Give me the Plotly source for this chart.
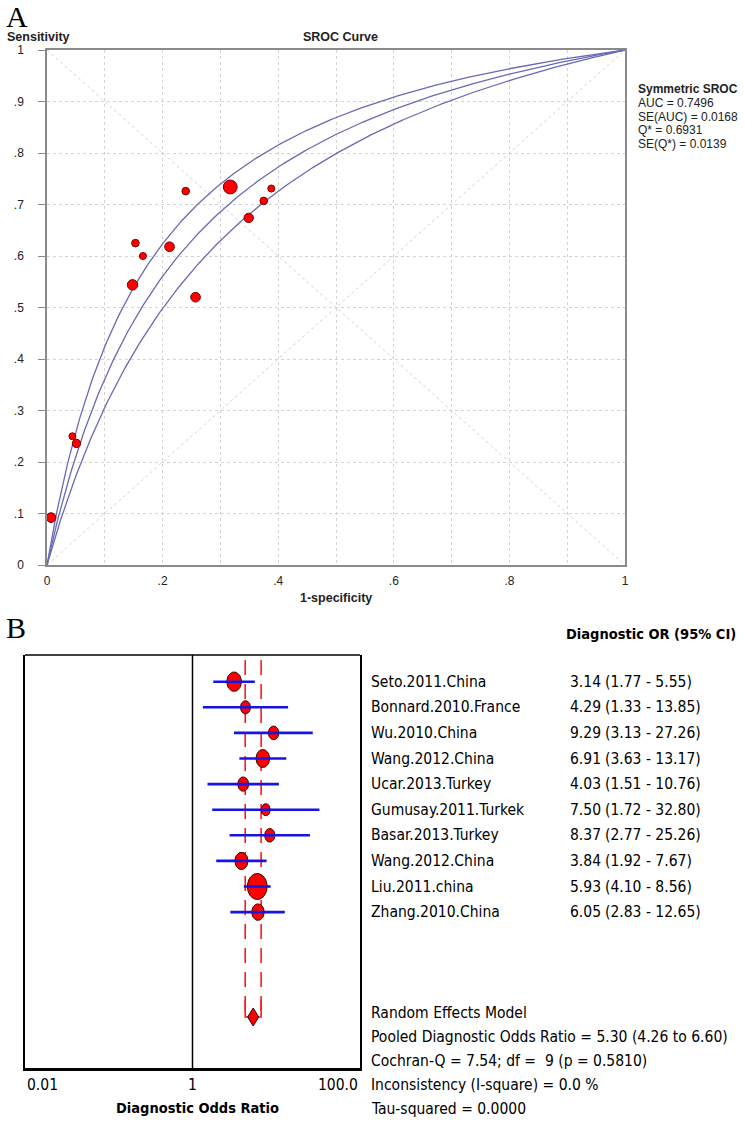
import numpy as np
import plotly.graph_objects as go

# ---------------- DATA ----------------
# Panel A : SROC scatter (1-specificity, sensitivity) and relative study weights
sroc_fpr = [0.153, 0.166, 0.148, 0.212, 0.240, 0.257, 0.317, 0.349, 0.375, 0.388, 0.044, 0.051, 0.007]
sroc_sens = [0.625, 0.600, 0.544, 0.618, 0.726, 0.520, 0.734, 0.674, 0.707, 0.731, 0.250, 0.236, 0.092]
sroc_weight = [5.3, 4.5, 10.0, 8.6, 5.3, 8.6, 17.7, 8.1, 5.3, 4.5, 4.5, 6.4, 8.6]
# diagnostic odds ratios of the three symmetric SROC curves (lower SE, SROC, upper SE)
sroc_curve_dor = [3.97, 5.10, 6.63]
auc, se_auc, q_star, se_q = 0.7496, 0.0168, 0.6931, 0.0139
x_tick_vals = [0.0, 0.1, 0.2, 0.3, 0.4, 0.5, 0.6, 0.7, 0.8, 0.9, 1.0]
x_tick_text = ["0", "", ".2", "", ".4", "", ".6", "", ".8", "", "1"]
y_tick_text = ["0", ".1", ".2", ".3", ".4", ".5", ".6", ".7", ".8", ".9", "1"]

# Panel B : forest plot of diagnostic odds ratios
studies = ["Seto.2011.China", "Bonnard.2010.France", "Wu.2010.China", "Wang.2012.China",
           "Ucar.2013.Turkey", "Gumusay.2011.Turkek", "Basar.2013.Turkey", "Wang.2012.China",
           "Liu.2011.china", "Zhang.2010.China"]
dor = [3.14, 4.29, 9.29, 6.91, 4.03, 7.50, 8.37, 3.84, 5.93, 6.05]
ci_lo = [1.77, 1.33, 3.13, 3.63, 1.51, 1.72, 2.77, 1.92, 4.10, 2.83]
ci_hi = [5.55, 13.85, 27.26, 13.17, 10.76, 32.80, 25.26, 7.67, 8.56, 12.65]
pooled, pooled_lo, pooled_hi = 5.30, 4.26, 6.60
cochran_q, df_q, p_q, i_square, tau2 = 7.54, 9, 0.5810, 0.0, 0.0000
forest_tick_vals = [0.01, 1, 100]
forest_tick_text = ["0.01", "1", "100.0"]

# ---------------- LAYOUT HELPERS ----------------
W, H = 745, 1122
def px(x):
    return x / W
def py(y):
    return 1 - y / H

ROW0, ROWH = 681.7, 25.6          # forest: first row centre (px) and row spacing (px)
BOX_L, BOX_R, BOX_T, BOX_B = 25, 360, 655, 1068
PX_PER_DEC = (BOX_R - BOX_L) / 4.0  # forest: px per decade
def row_of(ypx):
    return (ypx - ROW0) / ROWH

SANS = "Liberation Sans, Arial, sans-serif"
NARROW = "DejaVu Sans Condensed, Liberation Sans Narrow, Arial Narrow, sans-serif"
SERIF = "Liberation Serif, DejaVu Serif, serif"

fig = go.Figure()

# ---------------- PANEL A ----------------
f = np.linspace(0, 1, 400)
for d in sroc_curve_dor:
    s = d * f / (1 - f + d * f)
    fig.add_trace(go.Scatter(x=f, y=s, mode="lines", xaxis="x", yaxis="y",
                             line=dict(color="#6a6ab4", width=1.3), hoverinfo="skip",
                             showlegend=False))

fig.add_trace(go.Scatter(
    x=sroc_fpr, y=sroc_sens, mode="markers", xaxis="x", yaxis="y", cliponaxis=False,
    marker=dict(color="#ff0000", opacity=1, size=[3.3 * np.sqrt(w) for w in sroc_weight],
                line=dict(color="#7a0000", width=1)),
    showlegend=False))

# ---------------- PANEL B ----------------
n = len(studies)
rows = list(range(n))
diamond_row = row_of(1017)
lx = np.log10(dor)

# dashed pooled-CI lines
for v, side in ((pooled_lo, -1), (pooled_hi, 1)):
    fig.add_trace(go.Scatter(
        x=[np.log10(v), np.log10(v)], y=[row_of(660), diamond_row],
        mode="lines", xaxis="x2", yaxis="y2", hoverinfo="skip", showlegend=False,
        line=dict(color="#ff1a1a", width=1.6, dash="15px,9px")))
    fig.add_trace(go.Scatter(
        x=[np.log10(v), np.log10(v), np.log10(pooled) + side * 4.5 / PX_PER_DEC],
        y=[row_of(1000), diamond_row, diamond_row],
        mode="lines", xaxis="x2", yaxis="y2", hoverinfo="skip", showlegend=False,
        line=dict(color="#ff1a1a", width=1.6)))

# study ellipses sized by inverse-variance weight
ex, ey = [], []
t = np.linspace(0, 2 * np.pi, 40)
for i in rows:
    se = (np.log(ci_hi[i]) - np.log(ci_lo[i])) / 3.92
    w = 1 / se ** 2
    hgt = 12 + 3.5 * (np.sqrt(w) - 1.33)
    wid = 0.76 * hgt
    ex += list(lx[i] + (wid / 2) / PX_PER_DEC * np.cos(t)) + [None]
    ey += list(rows[i] + (hgt / 2) / ROWH * np.sin(t)) + [None]
fig.add_trace(go.Scatter(x=ex, y=ey, mode="lines", fill="toself", fillcolor="#ff0000",
                         line=dict(color="#3a0000", width=1), xaxis="x2", yaxis="y2",
                         hoverinfo="skip", showlegend=False))

# confidence-interval lines
cx, cy = [], []
for i in rows:
    cx += [np.log10(ci_lo[i]), np.log10(ci_hi[i]), None]
    cy += [rows[i], rows[i], None]
fig.add_trace(go.Scatter(x=cx, y=cy, mode="lines", xaxis="x2", yaxis="y2",
                         line=dict(color="#1414e6", width=2.6), hoverinfo="skip",
                         showlegend=False))

# pooled diamond
pcx = np.log10(pooled)
dw, dh = 5.5 / PX_PER_DEC, 9.0 / ROWH
fig.add_trace(go.Scatter(x=[pcx - dw, pcx, pcx + dw, pcx, pcx - dw],
                         y=[diamond_row, diamond_row - dh, diamond_row, diamond_row + dh, diamond_row],
                         mode="lines", fill="toself", fillcolor="#ff0000",
                         line=dict(color="#3a0000", width=1), xaxis="x2", yaxis="y2",
                         hoverinfo="skip", showlegend=False))

# ---------------- AXES ----------------
axA = dict(range=[0, 1], showline=True, linecolor="#8a8a8a", linewidth=1.5, mirror=True,
           showgrid=True, gridcolor="#d4d4d4", griddash="dot", gridwidth=1, zeroline=False,
           automargin=False, tickfont=dict(family=SANS, size=12, color="#222"))
fig.update_layout(
    xaxis=dict(axA, domain=[px(47), px(625)], anchor="y", tickmode="array",
               tickvals=x_tick_vals, ticktext=x_tick_text, ticks="", ticklabelstandoff=4),
    yaxis=dict(axA, domain=[py(565), py(50)], anchor="x", tickmode="array",
               tickvals=x_tick_vals, ticktext=y_tick_text, ticks="outside", ticklen=7,
               tickcolor="#8a8a8a", ticklabelstandoff=12),
    xaxis2=dict(domain=[px(BOX_L), px(BOX_R)], anchor="y2", range=[-2, 2], showgrid=False,
                zeroline=False, showline=True, linecolor="black", linewidth=3,
                automargin=False, showticklabels=False, ticks=""),
    yaxis2=dict(domain=[py(BOX_B), py(BOX_T)], anchor="x2", automargin=False,
                range=[row_of(BOX_B), row_of(BOX_T)], showgrid=False, zeroline=False,
                showline=True, linecolor="black", linewidth=1.5, mirror=True,
                showticklabels=False, ticks=""),
    width=W, height=H, margin=dict(l=0, r=0, t=0, b=0, autoexpand=False),
    paper_bgcolor="white", plot_bgcolor="white", showlegend=False,
)

shapes = [
    dict(type="line", xref="x", yref="y", x0=0, y0=1, x1=1, y1=0, layer="below",
         line=dict(color="#d4d4d4", width=1, dash="dot")),
    dict(type="line", xref="x", yref="y", x0=0, y0=0, x1=1, y1=1, layer="below",
         line=dict(color="#d4d4d4", width=1, dash="dot")),
    dict(type="line", xref="x2 domain", yref="y2 domain", x0=0, x1=1, y0=1, y1=1,
         line=dict(color="black", width=1.5)),
    dict(type="line", xref="x2", yref="y2 domain", x0=0, x1=0, y0=0, y1=1,
         line=dict(color="black", width=1.5)),
]
fig.update_layout(shapes=shapes)

# ---------------- TEXT ----------------
ann = []
def add(text, x, y, size, family, xanchor="left", bold=False, color="black",
        xref="paper", xval=None, yref="paper", yval=None):
    ann.append(dict(text=("<b>%s</b>" % text) if bold else text,
                    x=px(x) if xval is None else xval, xref=xref,
                    y=py(y) if yval is None else yval, yref=yref,
                    xanchor=xanchor, yanchor="middle", showarrow=False,
                    font=dict(family=family, size=size, color=color)))

add("A", 4, 16, 30, SERIF)
add("B", 4, 627, 30, SERIF)
add("Sensitivity", 5, 37, 12.5, SANS, bold=True, color="#222")
add("SROC Curve", 340, 37, 12.5, SANS, xanchor="center", bold=True, color="#222")
add("1-specificity", 336, 598, 12.5, SANS, xanchor="center", bold=True, color="#222")
add("Symmetric SROC", 636, 89, 12, SANS, bold=True, color="#222")
add("AUC = %.4f" % auc, 636, 103, 12, SANS, color="#222")
add("SE(AUC) = %.4f" % se_auc, 636, 117, 12, SANS, color="#222")
add("Q* = %.4f" % q_star, 636, 130, 12, SANS, color="#222")
add("SE(Q*) = %.4f" % se_q, 636, 144, 12, SANS, color="#222")

FS = 15.5
add("Diagnostic OR (95% CI)", 651, 634, 14.5, NARROW, xanchor="center", bold=True)
for i in rows:
    add(studies[i], 369, 0, FS, NARROW, yref="y2", yval=rows[i])
    add("%.2f" % dor[i], 568, 0, FS, NARROW, yref="y2", yval=rows[i])
    add("(%.2f - %.2f)" % (ci_lo[i], ci_hi[i]), 603, 0, FS, NARROW, yref="y2", yval=rows[i])

summary = [
    "Random Effects Model",
    "Pooled Diagnostic Odds Ratio = %.2f (%.2f to %.2f)" % (pooled, pooled_lo, pooled_hi),
    "Cochran-Q = %.2f; df =\u00a0\u00a0%d (p = %.4f)" % (cochran_q, df_q, p_q),
    "Inconsistency (I-square) = %.1f %%" % i_square,
    "Tau-squared = %.4f" % tau2,
]
for k, s in enumerate(summary):
    add(s, 369, 1013 + 24 * k, FS, NARROW)

# forest x-axis labels: first left-aligned, middle centred, last right-aligned
anchors = ["left", "center", "right"]
for v, txt, a in zip(forest_tick_vals, forest_tick_text, anchors):
    add(txt, 0, 1085, FS, NARROW, xanchor=a, xref="x2", xval=float(np.log10(v)))
add("Diagnostic Odds Ratio", 197, 1108, 14.5, NARROW, xanchor="center", bold=True)

fig.update_layout(annotations=ann)
fig.write_html("out.html", config={"displayModeBar": False},
               post_script="document.body.style.margin='0';document.body.style.overflow='hidden';")
